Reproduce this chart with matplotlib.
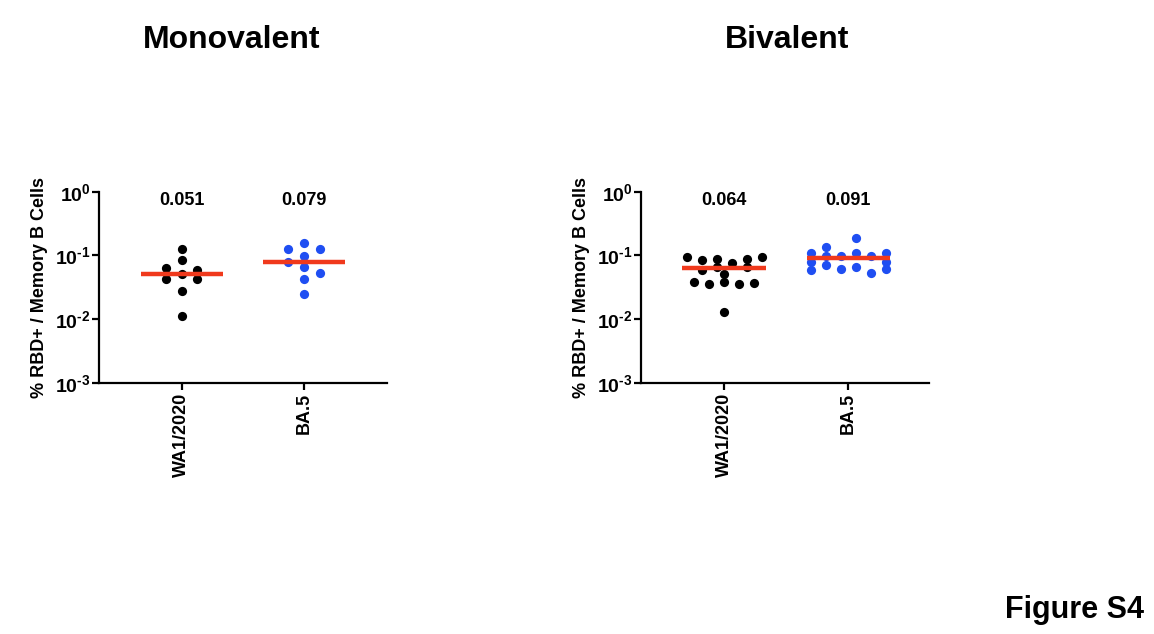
import matplotlib
matplotlib.use("Agg")
import matplotlib.pyplot as plt
import numpy as np

plt.rcParams['font.family'] = ['Liberation Sans', 'DejaVu Sans']
plt.rcParams['font.weight'] = 'bold'
plt.rcParams['mathtext.fontset'] = 'custom'
plt.rcParams['mathtext.rm'] = 'Liberation Sans:bold'
plt.rcParams['mathtext.bf'] = 'Liberation Sans:bold'
plt.rcParams['mathtext.default'] = 'rm'

categories = ["WA1/2020", "BA.5"]
titles = ["Monovalent", "Bivalent"]

# % RBD+ / memory B cells
mono_wa1 = [0.126, 0.0845, 0.064, 0.059, 0.042, 0.051, 0.042, 0.028, 0.0113]
mono_wa1_col = [0, 0, -1, 1, -1, 0, 1, 0, 0]
mono_ba5 = [0.127, 0.158, 0.127, 0.0776, 0.0977, 0.0656, 0.052, 0.042, 0.0244]
mono_ba5_col = [-1, 0, 1, -1, 0, 0, 1, 0, 0]

bi_wa1 = [0.094, 0.0845, 0.0865, 0.0749, 0.0865, 0.094,
          0.059, 0.0648, 0.051, 0.0648,
          0.038, 0.035, 0.038, 0.035, 0.0367, 0.0127]
bi_wa1_col = [-5, -3, -1, 1, 3, 5, -3, -1, 0, 3, -4, -2, 0, 2, 4, 0]
bi_ba5 = [0.109, 0.0796, 0.059, 0.137, 0.0977, 0.0705, 0.0977, 0.060,
          0.109, 0.0664, 0.187, 0.0977, 0.052, 0.109, 0.0796, 0.060]
bi_ba5_col = [-5, -5, -5, -3, -3, -3, -1, -1, 1, 1, 1, 3, 3, 5, 5, 5]

medians_mono = [0.051, 0.079]
medians_bi = [0.064, 0.091]
median_labels_mono = ["0.051", "0.079"]
median_labels_bi = ["0.064", "0.091"]

panels = [
    (titles[0], [mono_wa1, mono_ba5], [mono_wa1_col, mono_ba5_col],
     medians_mono, median_labels_mono, 0.128, (-0.676, 1.68)),
    (titles[1], [bi_wa1, bi_ba5], [bi_wa1_col, bi_ba5_col],
     medians_bi, median_labels_bi, 0.0605, (-0.669, 1.653)),
]

colors = ["black", "#1f4ef2"]
red = "#f0391c"

fig = plt.figure(figsize=(11.54, 6.34), dpi=100)
lefts = [0.0858, 0.5555]
title_x = [0.201, 0.682]

ytick_labels = [r"$10^{\text{-}3}$", r"$10^{\text{-}2}$", r"$10^{\text{-}1}$", r"$10^{0}$"]

for i, (title, groups, cols, meds, medlab, step, xl) in enumerate(panels):
    ax = fig.add_axes([lefts[i], 0.3964, 0.2496, 0.3013])
    for j, (vals, c) in enumerate(zip(groups, cols)):
        xs = j + np.array(c) * step
        ax.scatter(xs, vals, s=44, color=colors[j], zorder=3, linewidths=0)
        ax.plot([j - 0.335, j + 0.335], [meds[j], meds[j]], color=red,
                lw=3.2, zorder=4, solid_capstyle='butt')
        ax.text(j, 0.72, medlab[j], ha='center', va='center',
                fontsize=13, fontweight='bold')
    ax.set_yscale('log')
    ax.set_ylim(1e-3, 1)
    ax.set_xlim(*xl)
    ax.set_yticks([1e-3, 1e-2, 1e-1, 1])
    ax.set_yticklabels(ytick_labels)
    ax.yaxis.set_minor_locator(matplotlib.ticker.NullLocator())
    ax.set_xticks([0, 1])
    ax.set_xticklabels(categories, rotation=90, fontsize=13, fontweight='bold')
    ax.tick_params(axis='y', labelsize=14, width=1.6, length=5, pad=1)
    ax.tick_params(axis='x', width=1.6, length=5, pad=2)
    for s in ['top', 'right']:
        ax.spines[s].set_visible(False)
    for s in ['left', 'bottom']:
        ax.spines[s].set_linewidth(1.6)
    ax.set_ylabel("% RBD+ / Memory B Cells", fontsize=13, fontweight='bold',
                  labelpad=5)
    fig.text(title_x[i], 0.937, title, ha='center', va='center',
             fontsize=23, fontweight='bold')

fig.text(0.991, 0.038, "Figure S4", ha='right', va='center',
         fontsize=22, fontweight='bold')

fig.savefig("out.png", dpi=100)
